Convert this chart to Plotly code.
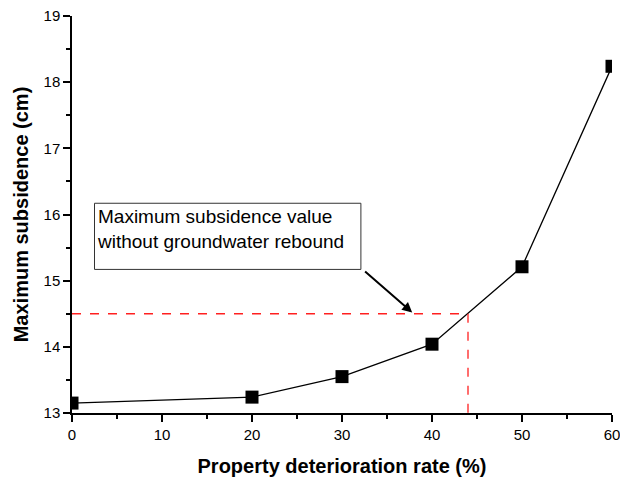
import plotly.graph_objects as go

# Subsidence at each property deterioration rate
rate = [0, 20, 30, 40, 50, 60]
subsidence = [13.15, 13.24, 13.55, 14.04, 15.21, 18.24]

# Reference value without groundwater rebound and where the curve reaches it
ref_value = 14.5
ref_rate = 44

x_ticks = [0, 10, 20, 30, 40, 50, 60]
y_ticks = [13, 14, 15, 16, 17, 18, 19]

note_lines = ["Maximum subsidence value", "without groundwater rebound"]

FONT = "Arial, Liberation Sans, sans-serif"

fig = go.Figure()

fig.add_trace(go.Scatter(
    x=rate, y=subsidence, mode="lines+markers",
    line=dict(color="black", width=1.3),
    marker=dict(symbol="square", size=13, color="black"),
    cliponaxis=True, showlegend=False,
))

# Red dashed guide lines
fig.add_trace(go.Scatter(
    x=[0, ref_rate, ref_rate], y=[ref_value, ref_value, 13],
    mode="lines", line=dict(color="#ff2020", width=1.3, dash="dash"),
    showlegend=False, hoverinfo="skip",
))

# Note box
fig.add_shape(type="rect", xref="x", yref="y",
              x0=2.5, x1=32.1, y0=15.17, y1=16.17,
              line=dict(color="#333333", width=1), fillcolor="white", layer="above")
fig.add_annotation(x=2.6, y=16.16, xref="x", yref="y", xanchor="left", yanchor="top",
                   text="<br>".join(note_lines), showarrow=False, align="left",
                   font=dict(family=FONT, size=19, color="black"))
# Arrow to the dashed line
fig.add_annotation(x=37.8, y=14.52, ax=32.4, ay=15.16, xref="x", yref="y",
                   axref="x", ayref="y", text="", showarrow=True,
                   arrowhead=2, arrowsize=1, arrowwidth=2, arrowcolor="black")

fig.update_xaxes(
    range=[0, 60], tickvals=x_ticks, ticktext=[str(v) for v in x_ticks],
    ticklabeloverflow="allow", automargin=False,
    showline=True, linecolor="black", linewidth=1.5, mirror=False,
    ticks="outside", ticklen=7, tickwidth=1.5, tickcolor="black",
    minor=dict(dtick=5, ticks="outside", ticklen=4, tickwidth=1.5, tickcolor="black"),
    showgrid=False, zeroline=False,
    tickfont=dict(family=FONT, size=15, color="black"),
    title=dict(text="<b>Property deterioration rate (%)</b>", standoff=17,
               font=dict(family=FONT, size=20, color="black")),
)
fig.update_yaxes(
    range=[13, 19], tickvals=y_ticks, ticktext=[str(v) for v in y_ticks],
    ticklabeloverflow="allow", automargin=False,
    showline=True, linecolor="black", linewidth=1.5, mirror=False,
    ticks="outside", ticklen=7, tickwidth=1.5, tickcolor="black",
    minor=dict(dtick=0.5, ticks="outside", ticklen=4, tickwidth=1.5, tickcolor="black"),
    showgrid=False, zeroline=False,
    tickfont=dict(family=FONT, size=15, color="black"),
    title=dict(text="<b>Maximum subsidence (cm)</b>", standoff=10,
               font=dict(family=FONT, size=20, color="black")),
)

fig.update_layout(
    width=620, height=482,
    margin=dict(l=72, r=8, t=16, b=69),
    paper_bgcolor="white", plot_bgcolor="white",
)

fig.write_html("out.html")
